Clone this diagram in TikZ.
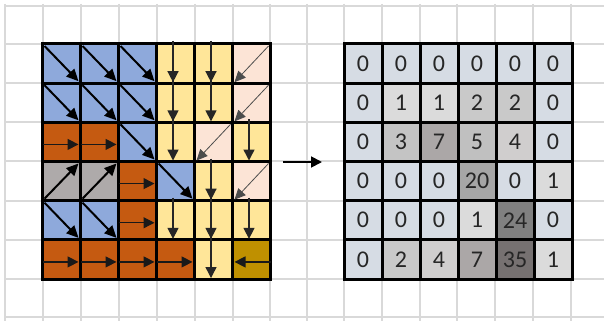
\documentclass[tikz,border=0pt]{standalone}
\usepackage{fontspec}
\setmainfont{Carlito}
\usetikzlibrary{arrows.meta,calc}
\definecolor{cB}{HTML}{8EA9DB}
\definecolor{cY}{HTML}{FFE699}
\definecolor{cP}{HTML}{FCE4D6}
\definecolor{cO}{HTML}{C55A11}
\definecolor{cG}{HTML}{AEAAAA}
\definecolor{cD}{HTML}{BF9000}
\definecolor{bgl}{HTML}{D9D9D9}
\definecolor{vz}{HTML}{D6DCE4}
\definecolor{va}{HTML}{DBDBDB}
\definecolor{vb}{HTML}{C9C9C9}
\definecolor{vc}{HTML}{C4C4C4}
\definecolor{vd}{HTML}{D0CECE}
\definecolor{ve}{HTML}{C0C0C0}
\definecolor{vg}{HTML}{ABA7A7}
\definecolor{vh}{HTML}{A6A6A6}
\definecolor{vi}{HTML}{808080}
\definecolor{vj}{HTML}{767171}
\definecolor{txt}{HTML}{262626}
\begin{document}
\begin{tikzpicture}[x=1pt,y=-1pt,
  bgline/.style={draw=bgl, line width=1.5pt},
  cellbox/.style={draw=black, line width=3pt, minimum width=38pt, minimum height=39.17pt, inner sep=0pt, outer sep=0pt},
  numtext/.style={text=txt, font=\fontsize{24}{24}\selectfont},
  arrse/.style={draw=black, line width=2pt, -{Triangle[length=12pt,width=11pt]}},
  arrdn/.style={draw=black!85, line width=1.4pt, -{Triangle[length=11pt,width=11pt]}},
  arrsw/.style={draw=black!70, line width=0.8pt, -{Triangle[length=11pt,width=10pt]}},
  arrrt/.style={draw=black!90, line width=1.2pt, -{Triangle[length=11pt,width=11pt]}},
  arrmain/.style={draw=black, line width=1.8pt, -{Triangle[length=11pt,width=11pt]}}
]
\useasboundingbox (0,0) rectangle (604,321);
\fill[white] (0,0) rectangle (604,321);
% background grid
\foreach \x in {5,43,81,119,157,195,233,270,307,344,382,420,457,495,533,571}
  \draw[bgline] (\x,4) -- (\x,321);
\foreach \y in {6,44,83,122,161,201,240,279,317}
  \draw[bgline] (4,\y) -- (604,\y);
% left grid cells
\foreach \r/\c/\col in {
  1/1/cB,1/2/cB,1/3/cB,1/4/cY,1/5/cY,1/6/cP,
  2/1/cB,2/2/cB,2/3/cB,2/4/cY,2/5/cY,2/6/cP,
  3/1/cO,3/2/cO,3/3/cB,3/4/cY,3/5/cP,3/6/cY,
  4/1/cG,4/2/cG,4/3/cO,4/4/cB,4/5/cY,4/6/cP,
  5/1/cB,5/2/cB,5/3/cO,5/4/cY,5/5/cY,5/6/cY,
  6/1/cO,6/2/cO,6/3/cO,6/4/cO,6/5/cY,6/6/cD}
  \node[cellbox, fill=\col] (L-\r-\c) at ({42.5+38*(\c-0.5)},{44+39.17*(\r-0.5)}) {};
% arrows in the left grid
\foreach \r/\c in {1/1,1/2,1/3,2/1,2/2,2/3,3/3,4/4,5/1,5/2}
  \draw[arrse] ($(L-\r-\c.north west)+(2,2)$) -- ($(L-\r-\c.south east)+(-2,-2)$);
\foreach \r/\c in {4/1,4/2}
  \draw[arrse] ($(L-\r-\c.south west)+(2,-2)$) -- ($(L-\r-\c.north east)+(-2,2)$);
\foreach \r/\c in {1/4,1/5,2/4,2/5,3/4,3/6,4/5,5/4,5/5,5/6,6/5}
  \draw[arrdn] ($(L-\r-\c.north)+(-2.5,-3)$) -- ($(L-\r-\c.south)+(-2.5,-1)$);
\foreach \r/\c in {1/6,2/6,3/5,4/6}
  \draw[arrsw] ($(L-\r-\c.north east)+(-2,2)$) -- ($(L-\r-\c.south west)+(2,-1)$);
\foreach \r/\c in {3/1,3/2,4/3,5/3,6/1,6/2,6/3,6/4}
  \draw[arrrt] ($(L-\r-\c.west)+(0,2.5)$) -- ($(L-\r-\c.east)+(-2,2.5)$);
\draw[arrrt] ($(L-6-6.east)+(0,2.5)$) -- ($(L-6-6.west)+(2,2.5)$);
% right grid
\foreach \r/\c/\v/\col in {
  1/1/0/vz,1/2/0/vz,1/3/0/vz,1/4/0/vz,1/5/0/vz,1/6/0/vz,
  2/1/0/vz,2/2/1/va,2/3/1/va,2/4/2/vb,2/5/2/vb,2/6/0/vz,
  3/1/0/vz,3/2/3/vc,3/3/7/vg,3/4/5/ve,3/5/4/vd,3/6/0/vz,
  4/1/0/vz,4/2/0/vz,4/3/0/vz,4/4/20/vh,4/5/0/vz,4/6/1/va,
  5/1/0/vz,5/2/0/vz,5/3/0/vz,5/4/1/va,5/5/24/vi,5/6/0/vz,
  6/1/0/vz,6/2/2/vb,6/3/4/vd,6/4/7/vg,6/5/35/vj,6/6/1/va}
  \node[cellbox, fill=\col, numtext] (R-\r-\c) at ({344+38*(\c-0.5)},{44+39.17*(\r-0.5)}) {\v};
% main arrow
\coordinate (mS) at (283,162);
\coordinate (mE) at (322,162);
\draw[arrmain] (mS) -- (mE);
\end{tikzpicture}
\end{document}
